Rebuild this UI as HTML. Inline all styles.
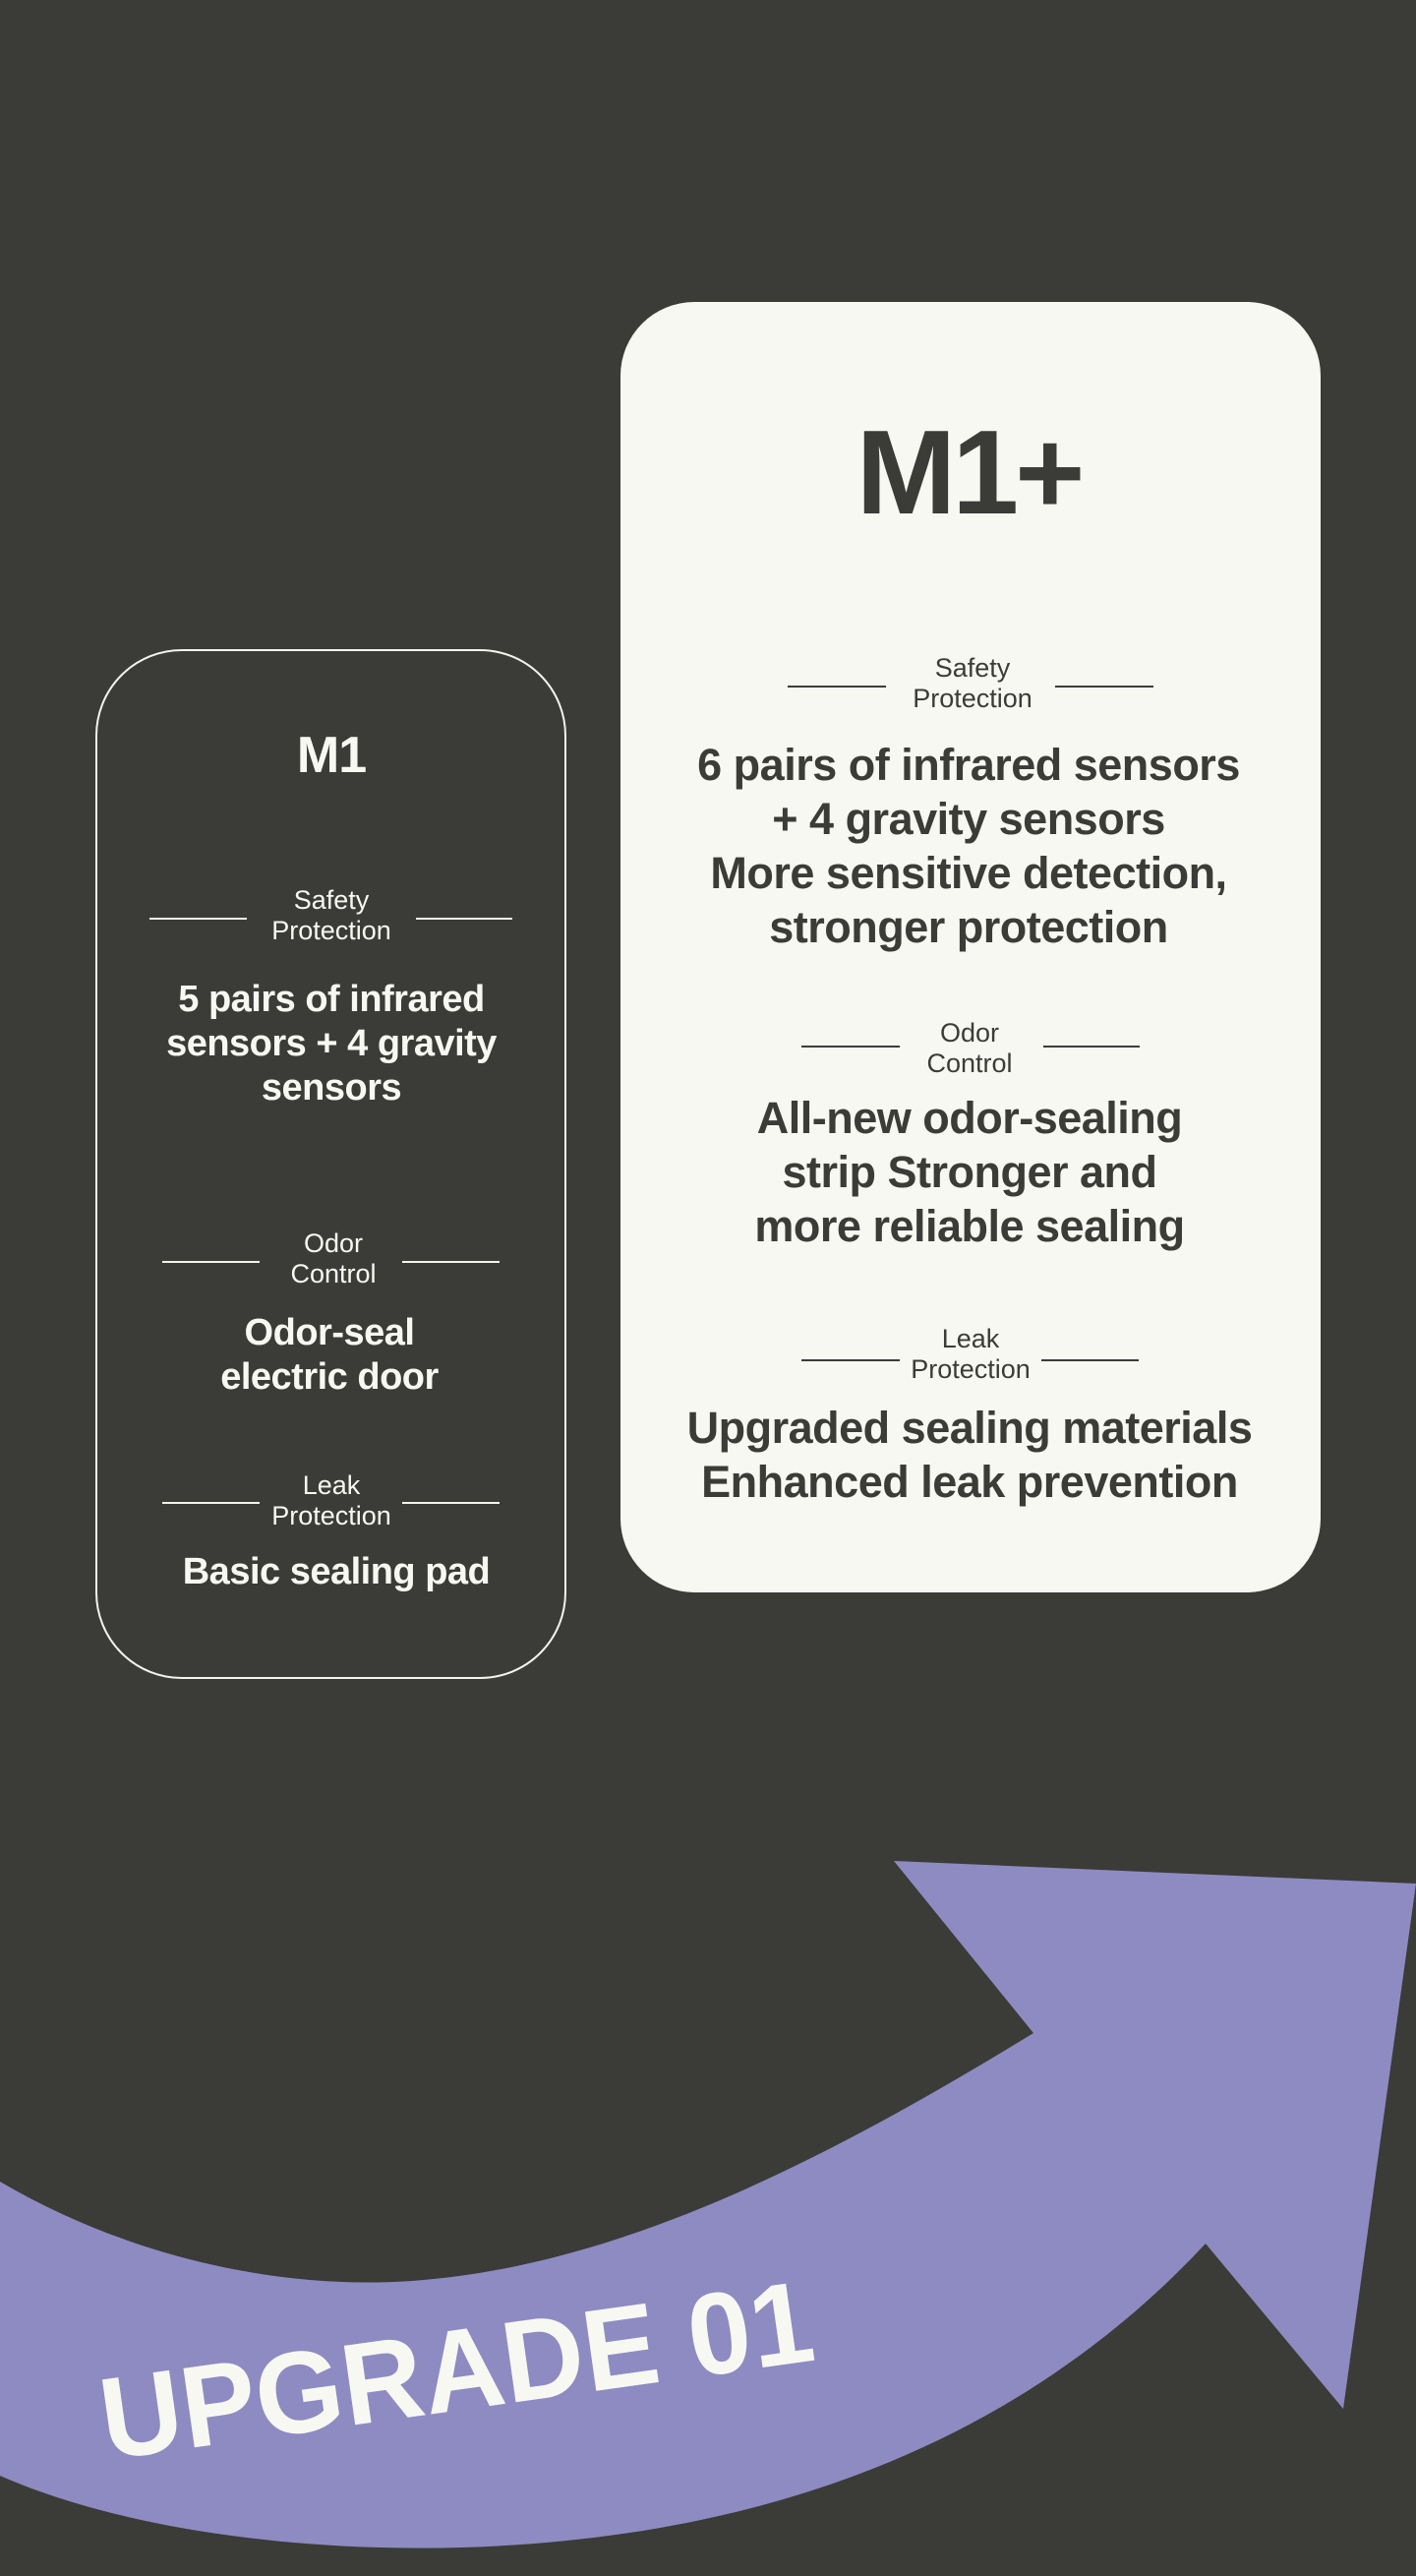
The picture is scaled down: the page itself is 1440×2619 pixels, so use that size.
<!DOCTYPE html>
<html><head><meta charset="utf-8"><style>
*{margin:0;padding:0;box-sizing:border-box}
body{width:1440px;height:2619px;background:#3b3b38;position:relative;overflow:hidden;font-family:"Liberation Sans",sans-serif}
.a{position:absolute;text-align:center;white-space:nowrap;transform:translateX(-50%)}
.card2{position:absolute;left:631px;top:307px;width:712px;height:1312px;background:#f8f8f3;border-radius:75px}
.card1{position:absolute;left:97px;top:660px;width:479px;height:1047px;border:2px solid #f3f3ee;border-radius:88px}
.ln{position:absolute;height:2px}
.d{color:#3b3b38}.w{color:#f8f8f3}
.lab{font-size:27px;line-height:31px}
.b2{font-size:45px;font-weight:bold;line-height:55px;letter-spacing:-0.5px}
.b1{font-size:38px;font-weight:bold;line-height:45px;letter-spacing:-0.5px}
</style></head><body>
<div class="card2"></div>
<div class="card1"></div>

<!-- M1+ -->
<div class="a d" style="left:985px;top:405px;font-size:122px;font-weight:bold;line-height:150px;letter-spacing:-4px">M1+</div>
<div class="ln" style="left:801px;top:697px;width:100px;background:#3b3b38"></div>
<div class="ln" style="left:1073px;top:697px;width:100px;background:#3b3b38"></div>
<div class="a d lab" style="left:989px;top:664px">Safety<br>Protection</div>
<div class="a d b2" style="left:985px;top:750px">6 pairs of infrared sensors<br>+ 4 gravity sensors<br>More sensitive detection,<br>stronger protection</div>
<div class="ln" style="left:815px;top:1063px;width:100px;background:#3b3b38"></div>
<div class="ln" style="left:1061px;top:1063px;width:98px;background:#3b3b38"></div>
<div class="a d lab" style="left:986px;top:1035px">Odor<br>Control</div>
<div class="a d b2" style="left:986px;top:1109px">All-new odor-sealing<br>strip Stronger and<br>more reliable sealing</div>
<div class="ln" style="left:815px;top:1382px;width:100px;background:#3b3b38"></div>
<div class="ln" style="left:1059px;top:1382px;width:99px;background:#3b3b38"></div>
<div class="a d lab" style="left:987px;top:1346px">Leak<br>Protection</div>
<div class="a d b2" style="left:986px;top:1424px">Upgraded sealing materials<br>Enhanced leak prevention</div>

<!-- M1 -->
<div class="a w" style="left:337px;top:733px;font-size:52px;font-weight:bold;line-height:70px;letter-spacing:-1px">M1</div>
<div class="ln" style="left:152px;top:933px;width:99px;background:#f3f3ee"></div>
<div class="ln" style="left:423px;top:933px;width:98px;background:#f3f3ee"></div>
<div class="a w lab" style="left:337px;top:900px">Safety<br>Protection</div>
<div class="a w b1" style="left:337px;top:994px">5 pairs of infrared<br>sensors + 4 gravity<br>sensors</div>
<div class="ln" style="left:165px;top:1282px;width:99px;background:#f3f3ee"></div>
<div class="ln" style="left:409px;top:1282px;width:99px;background:#f3f3ee"></div>
<div class="a w lab" style="left:339px;top:1249px">Odor<br>Control</div>
<div class="a w b1" style="left:335px;top:1333px">Odor-seal<br>electric door</div>
<div class="ln" style="left:165px;top:1527px;width:99px;background:#f3f3ee"></div>
<div class="ln" style="left:409px;top:1527px;width:99px;background:#f3f3ee"></div>
<div class="a w lab" style="left:337px;top:1495px">Leak<br>Protection</div>
<div class="a w b1" style="left:342px;top:1576px">Basic sealing pad</div>

<svg style="position:absolute;left:0;top:0" width="1440" height="2619">
<path fill="#8e8bc2" d="M0 2218 C140 2300 300 2330 431 2318 C640 2300 850 2190 1051 2067 L909 1892 L1440 1915 L1366 2449 L1226 2281 C1050 2470 800 2580 470 2590 C300 2595 120 2570 0 2517 Z"/>
<text x="0" y="0" transform="translate(470 2450) rotate(-8)" text-anchor="middle" font-family="Liberation Sans, sans-serif" font-weight="bold" font-size="118" fill="#f8f8f3" textLength="730" lengthAdjust="spacingAndGlyphs">UPGRADE 01</text>
</svg>
</body></html>
